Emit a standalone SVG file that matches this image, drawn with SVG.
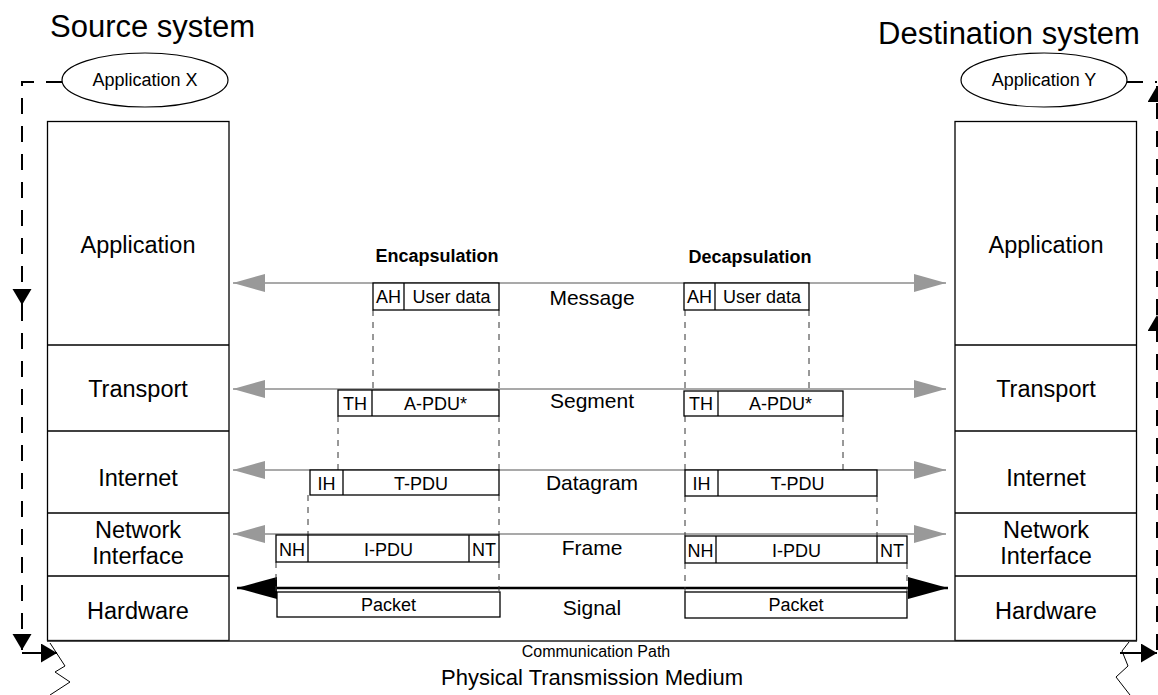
<svg xmlns="http://www.w3.org/2000/svg" width="1158" height="695" viewBox="0 0 1158 695">
  <style>
    text { font-family: "Liberation Sans", Arial, sans-serif; fill: #000; }
    .title { font-size: 31px; }
    .layer { font-size: 23.5px; text-anchor: middle; }
    .unit { font-size: 21px; text-anchor: middle; }
    .cell { font-size: 18px; text-anchor: middle; }
    .app { font-size: 18px; text-anchor: middle; }
    .head { font-size: 18px; font-weight: bold; text-anchor: middle; }
    .small { font-size: 16px; text-anchor: middle; }
    .stack { fill: #fff; stroke: #000; stroke-width: 1.3; }
    .div { stroke: #000; stroke-width: 1.3; }
    .pdu { fill: #fff; stroke: #000; stroke-width: 1.3; }
    .guide { stroke: #333; stroke-width: 1; stroke-dasharray: 6 6; fill: none; }
    .pipe { stroke: #8c8c8c; stroke-width: 1.5; marker-start: url(#grayHead); marker-end: url(#grayHead); }
    .signal { stroke: #000; stroke-width: 2.5; marker-start: url(#blackHead); marker-end: url(#blackHead); }
    .loop { stroke: #000; stroke-width: 2; stroke-dasharray: 16 12; fill: none; }
    .solid { stroke: #000; stroke-width: 2; fill: none; }
    .zig { stroke: #000; stroke-width: 1; fill: none; }
  </style>
  <defs>
    <marker id="grayHead" markerUnits="userSpaceOnUse" markerWidth="34" markerHeight="20" refX="32" refY="9" orient="auto-start-reverse">
      <path d="M0,0 L32,9 L0,18 z" fill="#999"/>
    </marker>
    <marker id="blackHead" markerUnits="userSpaceOnUse" markerWidth="42" markerHeight="24" refX="40" refY="11" orient="auto-start-reverse">
      <path d="M0,0 L40,11 L0,22 z" fill="#000"/>
    </marker>
    <marker id="flowHead" markerUnits="userSpaceOnUse" markerWidth="18" markerHeight="20" refX="16" refY="9.5" orient="auto">
      <path d="M0,0 L16,9.5 L0,19 z" fill="#000"/>
    </marker>
  </defs>

  <!-- system titles -->
  <text class="title" x="50" y="37">Source system</text>
  <text class="title" x="878" y="44">Destination system</text>

  <!-- applications -->
  <g id="app-x">
    <ellipse cx="145" cy="80" rx="83" ry="27" fill="#fff" stroke="#000" stroke-width="1.2"/>
    <text class="app" x="145" y="86">Application X</text>
  </g>
  <g id="app-y">
    <ellipse cx="1044" cy="80" rx="83" ry="27" fill="#fff" stroke="#000" stroke-width="1.2"/>
    <text class="app" x="1044" y="86">Application Y</text>
  </g>

  <!-- source protocol stack -->
  <g id="source-stack">
    <rect class="stack" x="47.5" y="121.5" width="181.5" height="519"/>
    <line class="div" x1="47.5" y1="345" x2="229" y2="345"/>
    <line class="div" x1="47.5" y1="431" x2="229" y2="431"/>
    <line class="div" x1="47.5" y1="513" x2="229" y2="513"/>
    <line class="div" x1="47.5" y1="576" x2="229" y2="576"/>
    <text class="layer" x="138" y="253">Application</text>
    <text class="layer" x="138" y="397">Transport</text>
    <text class="layer" x="138" y="486">Internet</text>
    <text class="layer" x="138" y="538">Network</text>
    <text class="layer" x="138" y="564">Interface</text>
    <text class="layer" x="138" y="619">Hardware</text>
  </g>

  <!-- destination protocol stack -->
  <g id="destination-stack">
    <rect class="stack" x="955" y="121.5" width="181.5" height="519"/>
    <line class="div" x1="955" y1="345" x2="1136.5" y2="345"/>
    <line class="div" x1="955" y1="431" x2="1136.5" y2="431"/>
    <line class="div" x1="955" y1="513" x2="1136.5" y2="513"/>
    <line class="div" x1="955" y1="576" x2="1136.5" y2="576"/>
    <text class="layer" x="1046" y="253">Application</text>
    <text class="layer" x="1046" y="397">Transport</text>
    <text class="layer" x="1046" y="486">Internet</text>
    <text class="layer" x="1046" y="538">Network</text>
    <text class="layer" x="1046" y="564">Interface</text>
    <text class="layer" x="1046" y="619">Hardware</text>
  </g>

  <!-- physical medium -->
  <g id="medium">
    <line x1="47" y1="641" x2="1137" y2="641" stroke="#222" stroke-width="1.3"/>
    <polyline class="zig" points="50,643 65,666 55,672 70,682 50,695"/>
    <polyline class="zig" points="1129,642 1122,651 1128,666 1116,677 1130,695"/>
    <text class="small" x="596" y="657">Communication Path</text>
    <text x="592" y="685" font-size="22" text-anchor="middle">Physical Transmission Medium</text>
  </g>

  <!-- connectors -->
  <g id="connectors">
    <line class="pipe" x1="233" y1="283" x2="946" y2="283"/>
    <line class="pipe" x1="233" y1="389" x2="946" y2="389"/>
    <line class="pipe" x1="233" y1="470" x2="946" y2="470"/>
    <line class="pipe" x1="233" y1="534" x2="946" y2="534"/>
    <line class="signal" x1="237" y1="588" x2="948" y2="588"/>

    <!-- encapsulation guides -->
    <path class="guide" d="M373,310 V390 M499,310 V390 M338,416 V470 M499,416 V470 M308,495 V535 M499,495 V535 M276,562 V591 M499,562 V591"/>
    <!-- decapsulation guides -->
    <path class="guide" d="M685,310 V391 M809,310 V389 M685,416 V470 M843,416 V470 M685,496 V536 M877,496 V536 M685,563 V592 M907,563 V592"/>

    <!-- source-side flow -->
    <path class="loop" d="M62,82 H22 V305" marker-end="url(#flowHead)"/>
    <path class="loop" d="M22,305 V650" marker-end="url(#flowHead)"/>
    <path class="solid" d="M22,653 H57" marker-end="url(#flowHead)"/>
    <!-- destination-side flow -->
    <path class="solid" d="M1120,653 H1157" marker-end="url(#flowHead)"/>
    <path class="loop" d="M1157,650 V315" marker-end="url(#flowHead)"/>
    <path class="loop" d="M1157,315 V86" marker-end="url(#flowHead)"/>
    <path class="loop" d="M1127,82 H1157"/>
  </g>

  <!-- phase headings and unit names -->
  <text class="head" x="437" y="262">Encapsulation</text>
  <text class="head" x="750" y="263">Decapsulation</text>
  <text class="unit" x="592" y="305">Message</text>
  <text class="unit" x="592" y="408">Segment</text>
  <text class="unit" x="592" y="490">Datagram</text>
  <text class="unit" x="592" y="555">Frame</text>
  <text class="unit" x="592" y="615">Signal</text>

  <!-- encapsulated data units -->
  <g id="enc-message">
    <rect class="pdu" x="373" y="283" width="126" height="27"/>
    <line class="div" x1="404" y1="283" x2="404" y2="310"/>
    <text class="cell" x="388.5" y="303">AH</text>
    <text class="cell" x="451.5" y="303">User data</text>
  </g>
  <g id="enc-segment">
    <rect class="pdu" x="338" y="390" width="161" height="26"/>
    <line class="div" x1="372" y1="390" x2="372" y2="416"/>
    <text class="cell" x="355" y="410">TH</text>
    <text class="cell" x="435.5" y="410">A-PDU*</text>
  </g>
  <g id="enc-datagram">
    <rect class="pdu" x="310" y="470" width="189" height="25"/>
    <line class="div" x1="343" y1="470" x2="343" y2="495"/>
    <text class="cell" x="326.5" y="490">IH</text>
    <text class="cell" x="421" y="490">T-PDU</text>
  </g>
  <g id="enc-frame">
    <rect class="pdu" x="276" y="535" width="223" height="27"/>
    <line class="div" x1="308" y1="535" x2="308" y2="562"/>
    <line class="div" x1="469" y1="535" x2="469" y2="562"/>
    <text class="cell" x="292" y="556">NH</text>
    <text class="cell" x="388.5" y="556">I-PDU</text>
    <text class="cell" x="484" y="556">NT</text>
  </g>
  <g id="enc-packet">
    <rect class="pdu" x="277" y="592" width="223" height="25"/>
    <text class="cell" x="388.5" y="611">Packet</text>
  </g>

  <!-- decapsulated data units -->
  <g id="dec-message">
    <rect class="pdu" x="684" y="283" width="125" height="27"/>
    <line class="div" x1="715" y1="283" x2="715" y2="310"/>
    <text class="cell" x="699.5" y="303">AH</text>
    <text class="cell" x="762" y="303">User data</text>
  </g>
  <g id="dec-segment">
    <rect class="pdu" x="684" y="391" width="159" height="25"/>
    <line class="div" x1="718" y1="391" x2="718" y2="416"/>
    <text class="cell" x="701" y="410">TH</text>
    <text class="cell" x="780.5" y="410">A-PDU*</text>
  </g>
  <g id="dec-datagram">
    <rect class="pdu" x="685" y="470" width="192" height="26"/>
    <line class="div" x1="718" y1="470" x2="718" y2="496"/>
    <text class="cell" x="701.5" y="490">IH</text>
    <text class="cell" x="797.5" y="490">T-PDU</text>
  </g>
  <g id="dec-frame">
    <rect class="pdu" x="685" y="536" width="222" height="27"/>
    <line class="div" x1="716" y1="536" x2="716" y2="563"/>
    <line class="div" x1="877" y1="536" x2="877" y2="563"/>
    <text class="cell" x="700.5" y="557">NH</text>
    <text class="cell" x="796.5" y="557">I-PDU</text>
    <text class="cell" x="892" y="557">NT</text>
  </g>
  <g id="dec-packet">
    <rect class="pdu" x="685" y="592" width="222" height="26"/>
    <text class="cell" x="796" y="611">Packet</text>
  </g>
</svg>
